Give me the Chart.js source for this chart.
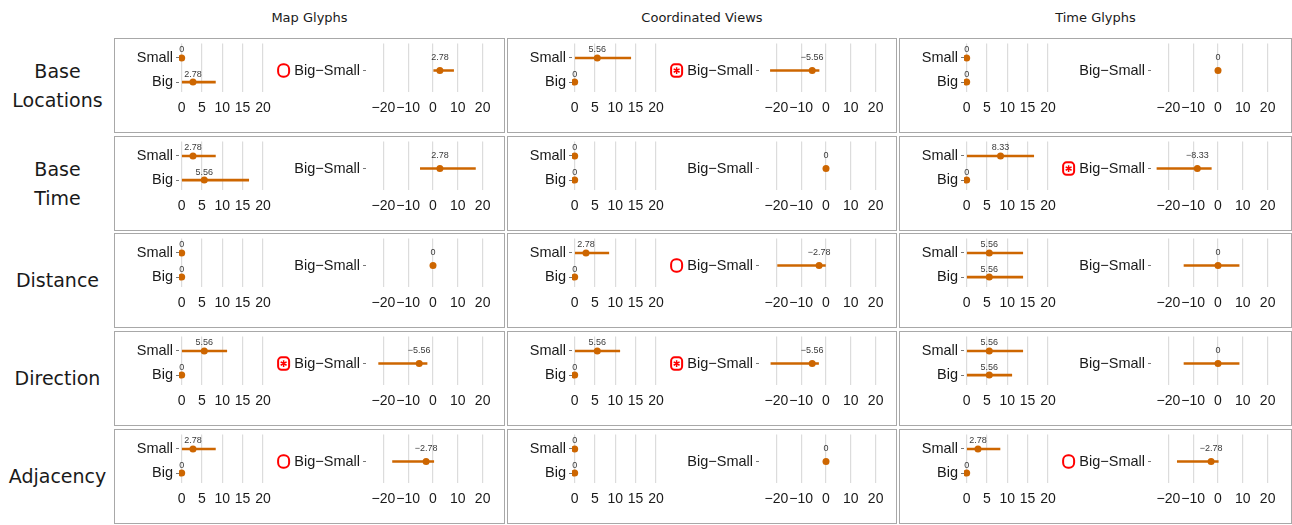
<!DOCTYPE html>
<html>
<head>
<meta charset="utf-8">
<script src="https://cdn.jsdelivr.net/npm/chart.js@4.4.1/dist/chart.umd.min.js"></script>
<style>
  body { margin: 0; background: #fff; }
  #wrap { position: relative; width: 1292px; height: 525px; overflow: hidden; font-family: "DejaVu Sans"; color: #1a1a1a; }
  .panel { position: absolute; border: 1px solid #a8a8a8; box-sizing: border-box; }
  .head { position: absolute; top: 9px; height: 18px; line-height: 18px; font-size: 13px; text-align: center; }
  .rowlab { position: absolute; left: 0; width: 115px; font-size: 19px; line-height: 29px; text-align: center;
            display: flex; align-items: center; justify-content: center; }
  canvas { position: absolute; }
</style>
</head>
<body>
<div id="wrap"></div>
<script>
// facet labels
const groups = ['Map Glyphs', 'Coordinated Views', 'Time Glyphs'];
const factors = [['Base', 'Locations'], ['Base', 'Time'], ['Distance'], ['Direction'], ['Adjacency']];
const conditions = ['Small', 'Big'];
const diffLabels = ['Big\u2212Small'];
const xTicksLeft = [0, 5, 10, 15, 20];
const xTicksRight = [-20, -10, 0, 10, 20];

// estimates and intervals, rows = factors, cols = groups
const smallEst = [[0, 5.56, 0], [2.78, 0, 8.33], [0, 2.78, 5.56], [5.56, 5.56, 5.56], [2.78, 0, 2.78]];
const smallLo  = [[0, 0, 0], [0, 0, 0], [0, 0, 0], [0, 0, 0], [0, 0, 0]];
const smallHi  = [[0, 13.8, 0], [8.3, 0, 16.5], [0, 8.4, 13.8], [11.1, 11.1, 13.8], [8.3, 0, 8.2]];
const bigEst   = [[2.78, 0, 0], [5.56, 0, 0], [0, 0, 5.56], [0, 0, 5.56], [0, 0, 0]];
const bigLo    = [[0, 0, 0], [0, 0, 0], [0, 0, 0], [0, 0, 0], [0, 0, 0]];
const bigHi    = [[8.3, 0, 0], [16.5, 0, 0], [0, 0, 13.8], [0, 0, 11.1], [0, 0, 0]];
const diffEst  = [[2.78, -5.56, 0], [2.78, 0, -8.33], [0, -2.78, 0], [-5.56, -5.56, 0], [-2.78, 0, -2.78]];
const diffLo   = [[0.3, -22.4, 0], [-5.1, 0, -24.6], [0, -19.5, -13.7], [-21.9, -22.2, -13.7], [-16.3, 0, -16.4]];
const diffHi   = [[8.3, -2.8, 0], [17.1, 0, -2.7], [0, 0, 8.5], [-2.4, -3.0, 8.5], [0.3, 0, 0.1]];
// red markers: 'O' = flagged, '*' = significant
const markers  = [['O', '*', ''], ['', '', '*'], ['', 'O', ''], ['*', '*', ''], ['O', '', 'O']];

const ORANGE = '#cd6600';
const COL_LEFT = [114, 507, 899];
const COL_W = [391, 390, 393];
const ROW_TOP = [38, 136, 233, 331, 429];
const ROW_H = 95;

Chart.defaults.font.family = 'Liberation Sans';
Chart.defaults.animation = false;

const wrap = document.getElementById('wrap');

function fmt(v) {
  if (v === 0) return '0';
  return (v < 0 ? '\u2212' : '') + Math.abs(v).toFixed(2);
}

// draws the number above each point and the red marker before the y label
const valueLabels = {
  id: 'valueLabels',
  afterDatasetsDraw(chart, args, opts) {
    const ctx = chart.ctx;
    const xs = chart.scales.x, ys = chart.scales.y;
    const pts = chart.data.datasets[1].data;
    ctx.save();
    ctx.font = '9px "Liberation Sans"';
    ctx.fillStyle = '#3a3a3a';
    ctx.textAlign = 'center';
    ctx.textBaseline = 'middle';
    pts.forEach(p => {
      ctx.fillText(fmt(p.x), xs.getPixelForValue(p.x), ys.getPixelForValue(p.y - 1 / 3));
    });
    if (opts.marker) {
      ctx.font = '14.5px "Liberation Sans"';
      const w = ctx.measureText(opts.label).width;
      const cx = chart.chartArea.left - 6 - w - 4.4 - 6.3;
      const cy = ys.getPixelForValue(1);
      ctx.strokeStyle = '#ff0000';
      ctx.lineWidth = 2;
      ctx.beginPath();
      if (opts.marker === 'O') {
        ctx.roundRect(cx - 5.5, cy - 6.2, 11, 12.4, 5);
        ctx.stroke();
      } else {
        ctx.roundRect(cx - 5.5, cy - 6.2, 11, 12.4, 3.5);
        ctx.stroke();
        ctx.lineWidth = 1.5;
        ctx.beginPath();
        for (let k = 0; k < 3; k++) {
          const a = Math.PI / 2 + k * Math.PI / 3;
          ctx.moveTo(cx - 3.4 * Math.cos(a), cy - 3.4 * Math.sin(a));
          ctx.lineTo(cx + 3.4 * Math.cos(a), cy + 3.4 * Math.sin(a));
        }
        ctx.stroke();
      }
    }
    ctx.restore();
  }
};

function addCanvas(x, y, w, h) {
  const c = document.createElement('canvas');
  c.width = w; c.height = h;
  c.style.left = x + 'px'; c.style.top = y + 'px';
  c.style.width = w + 'px'; c.style.height = h + 'px';
  wrap.appendChild(c);
  return c;
}

function makeChart(canvas, cfg) {
  new Chart(canvas, {
    type: 'scatter',
    data: {
      datasets: [
        { type: 'bar', indexAxis: 'y', data: cfg.bars, backgroundColor: ORANGE, barThickness: 2, borderWidth: 0 },
        { type: 'scatter', data: cfg.points, backgroundColor: ORANGE, pointRadius: 3.5, borderWidth: 0 }
      ]
    },
    options: {
      responsive: false,
      devicePixelRatio: 1,
      layout: { padding: { top: 5.5, right: cfg.padRight, bottom: 0, left: 0 } },
      plugins: {
        legend: { display: false },
        tooltip: { enabled: false },
        valueLabels: { marker: cfg.marker, label: cfg.labels[0] }
      },
      scales: {
        x: {
          type: 'linear', min: cfg.xMin, max: cfg.xMax, offset: false,
          afterBuildTicks: s => { s.ticks = cfg.xTicks.map(v => ({ value: v })); },
          afterFit: s => { s.height = 80 - 54; s.paddingLeft = 0; s.paddingRight = 0; },
          grid: { color: '#dcdcdc', lineWidth: 1.2, drawTicks: false, offset: false },
          border: { display: false },
          ticks: {
            autoSkip: false, maxRotation: 0, minRotation: 0, padding: 7.5,
            color: '#1a1a1a', font: { size: 14 },
            callback: v => (v < 0 ? '\u2212' : '') + Math.abs(v)
          }
        },
        y: {
          type: 'linear', reverse: true, min: cfg.yMin, max: cfg.yMax, offset: false,
          afterBuildTicks: s => { s.ticks = cfg.labels.map((l, i) => ({ value: i + 1 })); },
          afterFit: s => { s.width = cfg.yWidth; s.paddingTop = 0; s.paddingBottom = 0; },
          grid: { drawOnChartArea: false, drawTicks: true, tickLength: 3, color: '#777', offset: false },
          border: { display: false },
          ticks: { padding: 3, color: '#1a1a1a', font: { size: 14.5 }, callback: v => cfg.labels[v - 1] }
        }
      }
    },
    plugins: [valueLabels]
  });
}

// headers
groups.forEach((g, c) => {
  const d = document.createElement('div');
  d.className = 'head';
  d.style.left = COL_LEFT[c] + 'px';
  d.style.width = COL_W[c] + 'px';
  d.textContent = g;
  wrap.appendChild(d);
});

factors.forEach((f, r) => {
  const d = document.createElement('div');
  d.className = 'rowlab';
  d.style.top = ROW_TOP[r] + 'px';
  d.style.height = ROW_H + 'px';
  d.innerHTML = f.join('<br>');
  wrap.appendChild(d);

  groups.forEach((g, c) => {
    const p = document.createElement('div');
    p.className = 'panel';
    p.style.left = COL_LEFT[c] + 'px';
    p.style.top = ROW_TOP[r] + 'px';
    p.style.width = COL_W[c] + 'px';
    p.style.height = ROW_H + 'px';
    wrap.appendChild(p);

    const base = COL_LEFT[c] + 1;
    // Small / Big
    makeChart(addCanvas(base, ROW_TOP[r], 166, 80), {
      bars: [{ x: [smallLo[r][c], smallHi[r][c]], y: 1 }, { x: [bigLo[r][c], bigHi[r][c]], y: 2 }],
      points: [{ x: smallEst[r][c], y: 1 }, { x: bigEst[r][c], y: 2 }],
      labels: conditions, xTicks: xTicksLeft, xMin: -0.66, xMax: 21,
      yMin: 0.4, yMax: 2.41, yWidth: 64, padRight: 14, marker: ''
    });
    // Big - Small difference
    makeChart(addCanvas(base + 150, ROW_TOP[r], 242, 80), {
      bars: [{ x: [diffLo[r][c], diffHi[r][c]], y: 1 }],
      points: [{ x: diffEst[r][c], y: 1 }],
      labels: diffLabels, xTicks: xTicksRight, xMin: -27, xMax: 27,
      yMin: 0.32, yMax: 1.54, yWidth: 101, padRight: 7, marker: markers[r][c]
    });
  });
});
</script>
</body>
</html>
